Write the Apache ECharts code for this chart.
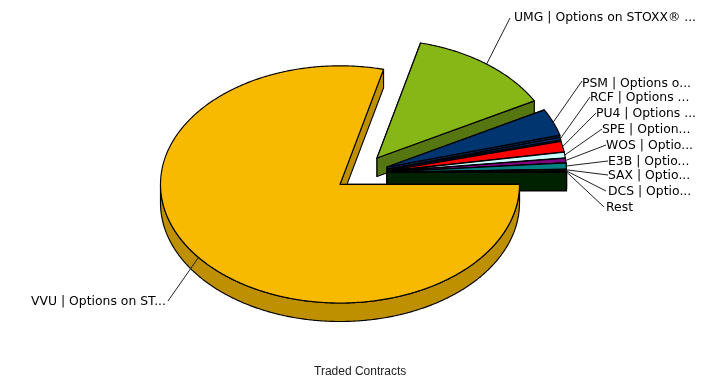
<!DOCTYPE html>
<html><head><meta charset="utf-8">
<style>html,body{margin:0;padding:0;background:#fff}#c{width:715px;height:381px}</style>
<script src="https://cdn.jsdelivr.net/npm/echarts@6/dist/echarts.min.js"></script>
</head><body><div id="c"></div>
<script>
const labels = ['VVU | Options on ST...','UMG | Options on STOXX® ...','PSM | Options o...','RCF | Options ...','PU4 | Options ...','SPE | Option...','WOS | Optio...','E3B | Optio...','SAX | Optio...','DCS | Optio...','Rest'];
const tradedContracts = [78.94,13.11,3.67,0.31,1.44,0.75,0.61,0.83,0.14,0.11,0.14];
const topColors = ['#F7BA00','#86B716','#003570','#00356F','#FF0000','#CCFFFF','#800080','#008080','#003300','#FFFFCC','#003300'];
const sideColors = ['#BE9000','#567612','#002350','#002350','#A00000','#88AAAA','#550055','#005555','#002200','#AAAA88','#002200'];

// layout of the pie, separate from the data
const CX = 340, CY = 184.4, RX = 179.5, RY = 118.6, DEPTH = 18.5;
const offsets = [[0,0],[37,-26.4],[47,-17.4],[47,-15],[47,-13.4],[47,-13],[47,-12.6],[47,-12.4],[47,-12.2],[47,-12],[47,-12]];
const anchors = [[168,301,166,302,'right'],[510,18,514,18,'left'],[582,81,582,84,'left'],[590,97,590,98,'left'],[596,113,596,114,'left'],[602,129,602,130,'left'],[606,145,606,146,'left'],[608,161,608,162,'left'],[608,175,608,176,'left'],[606,191,608,192,'left'],[604,207,606,208,'left']];

const total = tradedContracts.reduce((a,b)=>a+b,0);
const starts = []; tradedContracts.reduce((acc,v,i)=>{starts[i]=acc; return acc+v;},0);

function sweep(from, to){
  const out = [], n = Math.max(2, Math.ceil((to-from)/(Math.PI/360)));
  for(let k=0;k<=n;k++) out.push(from+(to-from)*k/n);
  return out;
}

function renderItem(params, api){
  const i = params.dataIndex;
  const a0 = starts[i]/total*2*Math.PI, a1 = a0 + api.value(0)/total*2*Math.PI;
  const ox = CX+offsets[i][0], oy = CY+offsets[i][1];
  const pt = (a,d=0)=>[ox+RX*Math.cos(a), oy+RY*Math.sin(a)+d];
  const z = i===0 ? 100 : 10+i;
  const side = sideColors[i], top = topColors[i];
  const poly = (pts,fill)=>({type:'polygon',z2:z,shape:{points:pts},style:{fill,stroke:'#000',lineWidth:1.15,lineJoin:'round'},silent:true});
  const children = [
    poly([[ox,oy],pt(a0),pt(a0,DEPTH),[ox,oy+DEPTH]],side),
    poly([[ox,oy],pt(a1),pt(a1,DEPTH),[ox,oy+DEPTH]],side)
  ];
  // only the part of the rim facing the viewer is visible
  const f0 = Math.max(a0,0), f1 = Math.min(a1,Math.PI);
  if(f1 > f0){
    const rim = sweep(f0,f1);
    children.push(poly(rim.map(a=>pt(a)).concat(rim.slice().reverse().map(a=>pt(a,DEPTH))),side));
  }
  children.push(poly([[ox,oy]].concat(sweep(a0,a1).map(a=>pt(a))),top));
  const mid = pt((a0+a1)/2), an = anchors[i];
  children.push({type:'polyline',z2:200,silent:true,shape:{points:[mid,[an[0],an[1]]]},style:{fill:null,stroke:'#222',lineWidth:1}});
  children.push({type:'text',z2:201,silent:true,style:{text:labels[i],x:an[2],y:an[3],align:an[4],verticalAlign:'middle',fill:'#000',font:'12.4px "DejaVu Sans"'}});
  return {type:'group',children};
}

const chart = echarts.init(document.getElementById('c'),null,{renderer:'canvas'});
chart.setOption({
  animation:false,
  backgroundColor:'#fff',
  title:{text:'Traded Contracts',left:314,top:366,padding:0,textStyle:{fontFamily:'"Liberation Sans"',fontSize:12,fontWeight:'normal',color:'#222'}},
  series:[{type:'custom',coordinateSystem:'none',renderItem,clip:false,data:tradedContracts.map(v=>[v])}]
});
</script></body></html>
